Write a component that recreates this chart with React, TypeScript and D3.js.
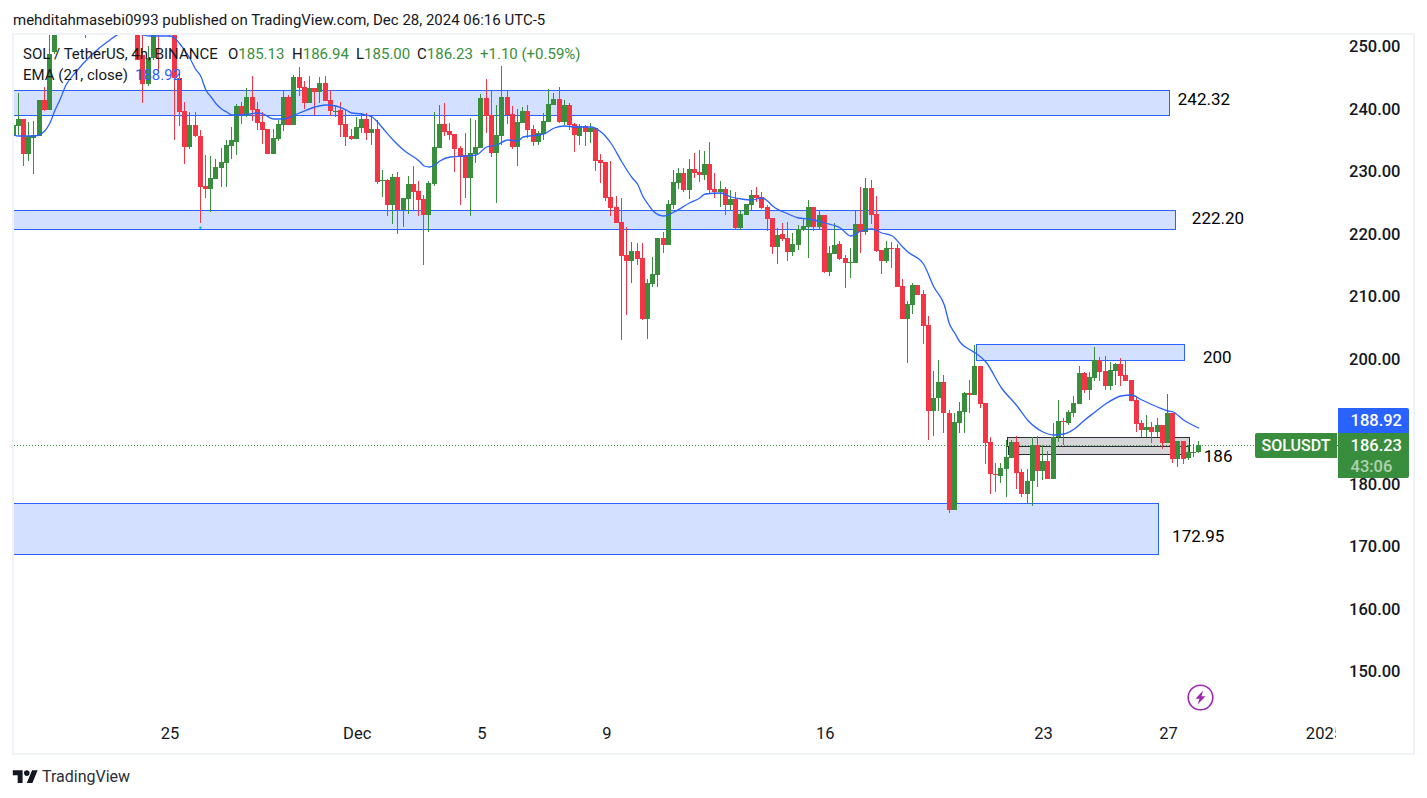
import React, { useEffect, useRef } from 'react'
import { axisBottom, axisRight, curveMonotoneX, format, line, scaleLinear, select } from 'd3'

// 4h bars, bar 0 is the Nov 25 00:00 candle. Bars -21..-7 sit above the visible range, so those are guesses.
const firstBar = -30

const opens = [
    235.68, 237.28, 238.40, 232.80, 235.36, 235.68, 241.44, 239.84, 249.12, 254,
    257, 259, 258, 260, 258, 254, 257, 260, 259, 257,
    259, 260, 258, 256, 255, 248.64, 244.0, 248.16, 256, 253.5,
    255, 254, 244.96, 239.68, 233.92, 237.44, 235.68, 227.68, 227.2, 228.8,
    230.56, 231.36, 234.08, 234.72, 240.48, 238.88, 241.92, 240.0, 237.92, 236.8,
    232.8, 235.2, 237.44, 241.92, 237.44, 245.12, 243.52, 240.96, 243.36, 242.72,
    244.16, 241.44, 239.68, 239.84, 237.6, 235.68, 235.2, 236.96, 238.4, 236.16,
    236.8, 228.48, 228.64, 224.64, 229.12, 223.84, 225.6, 228.0, 226.88, 225.6,
    223.04, 228.0, 233.76, 237.6, 236.48, 236.0, 233.76, 232.64, 228.96, 232.8,
    233.76, 241.76, 239.04, 232.96, 235.68, 241.92, 239.2, 233.92, 237.76, 239.68,
    236.8, 234.72, 236.0, 237.92, 240.64, 241.6, 237.92, 240.64, 237.6, 235.68,
    237.28, 236.32, 236.96, 231.84, 231.52, 225.92, 224.32, 221.92, 216.64, 215.68,
    217.28, 216.16, 206.4, 212.0, 213.44, 219.36, 218.24, 224.64, 228.16, 229.76,
    227.04, 230.4, 229.92, 229.44, 231.2, 227.2, 226.72, 227.2, 224.64, 225.6,
    220.96, 223.04, 224.64, 226.24, 225.92, 224.32, 222.56, 217.92, 220.0, 219.36,
    217.12, 218.24, 220.64, 221.12, 224.32, 221.12, 223.04, 213.92, 216.8, 218.4,
    216.16, 215.36, 215.36, 221.6, 220.32, 227.36, 223.2, 217.44, 215.68, 217.76,
    217.76, 211.68, 206.4, 208.64, 211.84, 210.4, 205.44, 191.68, 193.76, 196.32,
    191.36, 175.84, 189.76, 191.52, 194.56, 194.24, 198.88, 192.96, 186.72, 181.6,
    181.28, 182.4, 184.16, 186.72, 181.92, 178.4, 180.48, 186.24, 182.08, 183.68,
    180.8, 187.52, 190.08, 189.76, 191.36, 192.8, 197.76, 195.04, 196.96, 199.84,
    198.08, 195.68, 198.08, 199.2, 197.44, 196.64, 193.44, 189.76, 188.64, 189.12,
    188.32, 189.44, 186.56, 191.36, 184.0, 186.88, 184.16, 184.96, 185.13,
]

const highs = [
    239.04, 242.56, 238.40, 237.92, 238.08, 241.44, 243.52, 252.7, 256, 258,
    260, 262, 261, 263, 259, 258, 261, 263, 262, 260,
    262, 263, 260, 259, 257, 253, 250.08, 254, 257, 257,
    256, 255, 245.92, 241.12, 239.52, 239.52, 236.64, 232.64, 232.48, 232.0,
    233.76, 235.04, 237.12, 240.8, 241.12, 243.36, 245.28, 241.12, 239.52, 236.8,
    236.8, 238.24, 243.04, 242.24, 245.44, 246.72, 244.48, 245.28, 243.36, 245.12,
    245.28, 243.04, 240.48, 241.12, 239.84, 236.8, 238.72, 239.36, 239.36, 238.88,
    238.24, 230.24, 228.8, 229.6, 229.92, 225.76, 229.28, 230.88, 228.48, 226.24,
    228.48, 239.52, 240.64, 240.96, 237.76, 236.0, 234.08, 236.16, 238.56, 238.24,
    242.4, 244.8, 242.88, 240.64, 246.88, 242.88, 240.48, 240.0, 240.32, 240.64,
    237.44, 236.48, 239.36, 243.2, 242.56, 243.52, 241.44, 240.96, 237.76, 237.6,
    237.44, 237.76, 236.96, 232.8, 231.52, 231.68, 226.08, 225.76, 221.12, 218.72,
    218.56, 218.56, 212.8, 216.32, 219.36, 220.32, 225.44, 230.24, 230.56, 230.56,
    232.0, 232.96, 233.44, 233.28, 234.72, 229.76, 228.48, 227.52, 227.04, 226.72,
    223.84, 224.8, 227.04, 227.52, 226.72, 224.64, 222.56, 220.96, 221.76, 221.92,
    220.16, 221.44, 222.4, 225.44, 224.32, 223.84, 223.04, 218.08, 221.76, 218.88,
    216.64, 217.76, 223.84, 227.52, 228.96, 228.64, 226.08, 217.44, 218.88, 218.72,
    218.4, 212.8, 209.28, 212.16, 211.84, 211.04, 206.88, 198.08, 199.84, 197.44,
    191.84, 191.36, 193.12, 194.72, 196.64, 202.24, 198.88, 192.96, 187.52, 183.36,
    183.36, 187.04, 187.04, 187.68, 182.4, 182.4, 187.52, 187.68, 186.24, 185.28,
    189.76, 193.44, 190.56, 191.84, 194.08, 198.88, 197.92, 197.92, 201.92, 200.32,
    200.48, 199.52, 199.36, 200.16, 199.68, 196.64, 193.92, 190.24, 191.04, 189.92,
    190.56, 189.44, 194.4, 191.36, 186.88, 186.88, 186.24, 186.4, 186.94,
]

const lows = [
    234.72, 235.84, 230.88, 231.68, 229.60, 235.68, 239.68, 239.84, 248.8, 253,
    255, 257, 256, 257, 251.36, 253, 255, 258, 256, 255,
    257, 257, 254, 253.5, 247.84, 240.96, 243.68, 247.84, 245.92, 251.9,
    251.52, 235.04, 237.28, 231.2, 233.6, 235.52, 221.76, 225.76, 223.52, 228.8,
    227.52, 227.52, 232.0, 232.64, 237.6, 238.72, 238.08, 236.64, 234.4, 232.8,
    232.8, 234.88, 236.48, 237.44, 237.44, 242.08, 240.0, 240.96, 239.04, 240.96,
    241.28, 238.88, 238.72, 235.52, 234.08, 235.04, 235.2, 236.16, 235.04, 234.24,
    228.0, 225.92, 222.88, 221.6, 220.0, 221.12, 223.2, 223.84, 222.88, 215.04,
    220.32, 227.68, 233.76, 235.68, 235.04, 229.92, 224.64, 225.76, 222.88, 231.36,
    233.76, 236.16, 232.32, 224.96, 234.24, 237.6, 233.6, 230.88, 237.76, 235.36,
    234.08, 234.24, 235.04, 237.92, 240.64, 237.76, 237.44, 236.64, 233.12, 234.24,
    234.08, 234.56, 230.08, 228.16, 225.28, 222.88, 221.76, 203.04, 207.04, 212.16,
    215.04, 206.24, 203.2, 211.52, 211.52, 216.96, 218.24, 224.0, 227.2, 226.72,
    225.6, 228.96, 228.32, 228.64, 226.56, 225.76, 224.32, 223.04, 223.84, 220.64,
    220.64, 223.04, 223.84, 225.12, 224.0, 220.48, 216.8, 215.2, 218.88, 215.68,
    216.48, 217.44, 220.48, 216.16, 220.48, 220.64, 213.76, 213.28, 216.8, 215.84,
    211.36, 212.96, 215.36, 216.96, 219.84, 221.6, 217.12, 213.6, 215.36, 214.56,
    211.52, 206.4, 199.36, 207.2, 210.24, 202.4, 187.04, 187.68, 191.68, 188.16,
    175.36, 175.84, 188.16, 188.16, 191.36, 194.24, 192.16, 183.2, 178.4, 178.72,
    180.16, 177.92, 184.16, 179.2, 177.92, 176.96, 176.48, 179.52, 180.64, 180.8,
    180.8, 186.72, 186.24, 189.44, 190.72, 192.8, 194.56, 193.44, 196.48, 196.48,
    195.04, 195.04, 195.84, 195.68, 196.48, 193.28, 188.32, 187.52, 187.52, 186.56,
    187.52, 185.6, 186.56, 183.36, 182.72, 183.2, 183.84, 184.32, 185.0,
]

const closes = [
    237.44, 238.40, 232.80, 235.68, 235.84, 241.44, 239.84, 248.80, 254, 257,
    259, 258, 260, 258, 254, 257, 260, 259, 257, 259,
    260, 258, 256, 255, 247.84, 244.0, 248.16, 253, 253.5, 255,
    254, 244.96, 239.52, 233.92, 237.44, 235.68, 227.52, 227.2, 228.96, 230.72,
    231.52, 234.24, 235.04, 240.48, 239.04, 241.92, 239.84, 237.76, 236.64, 232.8,
    235.36, 237.6, 241.92, 237.44, 245.12, 243.36, 240.96, 243.36, 242.72, 244.16,
    241.28, 239.68, 239.76, 237.44, 235.52, 235.2, 237.12, 238.4, 236.16, 236.8,
    228.32, 228.64, 224.64, 229.12, 223.84, 225.76, 228.0, 226.72, 225.44, 223.04,
    228.16, 233.92, 237.6, 236.32, 235.84, 233.6, 232.48, 228.96, 232.96, 233.92,
    241.76, 238.88, 232.96, 235.84, 241.92, 239.04, 233.92, 237.92, 239.68, 236.64,
    234.72, 236.16, 238.08, 240.8, 241.6, 237.92, 240.64, 237.44, 235.84, 237.28,
    236.32, 236.96, 231.68, 231.36, 225.76, 224.16, 221.76, 216.48, 215.68, 217.28,
    216.0, 206.4, 212.16, 213.6, 219.36, 218.24, 224.8, 228.32, 229.76, 227.04,
    230.4, 229.76, 229.44, 231.2, 227.04, 226.72, 227.2, 224.64, 225.6, 220.96,
    223.2, 224.8, 226.24, 225.76, 224.16, 222.4, 217.92, 219.84, 219.2, 217.12,
    218.4, 220.8, 221.28, 224.32, 221.12, 223.04, 213.92, 216.96, 218.24, 216.0,
    215.36, 215.52, 221.6, 220.32, 227.36, 223.04, 217.28, 215.68, 217.76, 217.6,
    211.52, 206.4, 208.8, 211.84, 210.24, 205.28, 191.68, 193.76, 196.32, 191.36,
    175.84, 189.92, 191.68, 194.56, 194.24, 198.88, 192.8, 186.56, 181.6, 181.44,
    182.56, 184.32, 186.72, 181.76, 178.4, 180.48, 186.24, 182.08, 183.68, 180.8,
    187.52, 190.08, 189.92, 191.52, 192.96, 197.76, 195.04, 197.12, 199.84, 197.92,
    195.68, 198.24, 199.2, 197.28, 196.48, 193.28, 189.6, 188.64, 189.12, 188.32,
    189.44, 186.56, 191.36, 184.0, 186.88, 184.0, 185.12, 185.12, 186.23,
]

const emaBars = [
    -30, -29, -26, -24, -23, -22, -21, -20, -18, -15, -12, -9, -6, -4, -2, 0, 1, 2, 3, 4, 5, 6, 7, 8, 9, 10, 11, 12,
    14, 17, 18, 20, 22, 24, 25, 28, 30, 32, 34, 35, 37, 39, 40, 41, 43, 45, 48, 49, 50, 51, 52, 54, 57, 59,
    61, 63, 65, 67, 68, 71, 72, 74, 76, 78, 81, 83, 85, 87, 89, 90, 91, 92, 93, 95, 97, 100, 102, 103, 106, 108,
    110, 112, 114, 115, 116, 119, 121, 123, 126, 129, 131, 133, 135, 137, 139, 141, 142, 145, 147, 149, 150, 151,
    152, 154, 155, 157, 160, 163, 165, 168, 170, 172, 174, 176, 178, 180, 183, 185, 187, 190, 192, 193, 195, 198,
]

const emaValues = [
    235.84, 235.68, 235.68, 236.48, 237.76, 239.84, 241.6, 243.68, 245.92, 248.64, 250.72, 252.16, 252.0, 251.68, 251.68, 251.68, 251.36, 250.4, 249.28, 248.0, 246.4, 245.28, 243.04, 241.92, 240.8, 240.0, 239.52, 239.04,
    239.04, 239.36, 239.2, 238.4, 238.4, 239.04, 239.36, 240.32, 240.64, 240.48, 239.84, 239.36, 239.2, 238.72, 237.92, 236.96, 235.04, 233.44, 231.68, 230.88, 230.72, 231.04, 231.68, 232.32, 232.48, 232.64,
    233.92, 234.24, 235.04, 234.88, 235.52, 235.84, 236.0, 236.96, 237.28, 237.12, 237.12, 236.32, 234.4, 231.52, 228.96, 228.0, 226.08, 224.8, 223.68, 222.88, 223.52, 224.96, 225.76, 226.4, 226.56, 225.92,
    225.6, 225.44, 225.76, 225.28, 224.48, 223.2, 222.56, 222.4, 221.76, 220.96, 219.68, 220.48, 220.8, 220.16, 219.68, 217.92, 217.12, 215.2, 211.52, 208.64, 205.6, 204.16,
    202.72, 201.44, 200.96, 199.52, 195.36, 192.48, 190.24, 188.32, 187.84, 188.0, 188.8, 190.24, 191.52, 192.8, 194.08, 194.24, 193.44, 192.32, 191.68, 191.52, 190.24, 188.92,
]

// 190.00 is hidden behind the price tags
const priceTicks = [250, 240, 230, 220, 210, 200, 180, 170, 160, 150]
const timeTickBars = [0, 36, 60, 84, 126, 168, 192, 222]
const timeTickLabels = ['25', 'Dec', '5', '9', '16', '23', '27', '2025']

// blue zones drawn on the chart
const zoneTops = [242.99, 223.79, 202.35, 176.91]
const zoneBottoms = [238.99, 220.75, 199.79, 168.8]
const zoneStarts = [-33, -33, 155.25, -33]
const zoneEnds = [192.3, 193.46, 195.33, 190.25]

// grey box around 186
const greyTops = [187.47, 186.08]
const greyBottoms = [186.08, 184.75]
const greyStarts = [161.1, 161.25]
const greyEnds = [196.05, 196.05]

const noteLabels = ['242.32', '222.20', '200', '186', '172.95']
const noteBars = [194.0, 196.7, 198.85, 199.0, 192.9]
const notePrices = [241.6, 222.56, 200.32, 184.48, 171.68]

const legendValues = ['185.13', '186.94', '185.00', '186.23']
const lastPrice = 186.23
const emaPrice = 188.92

const GREEN = '#388e3c'
const RED = '#f23645'
const BLUE = '#2962ff'
const INK = '#131722'
const FRAME = '#f0f3fa'
const FONT = 'Roboto, sans-serif'

const App = () => {
    const chartRef = useRef<SVGSVGElement>(null)

    useEffect(() => {
        const width = 1427
        const height = 798
        const plot = { left: 14, top: 35, right: 1338, bottom: 753 }

        const x = scaleLinear().domain([0, 36]).range([169, 356.2])
        const y = scaleLinear().domain([150, 250]).range([671.5, 46.5])
        const ix = (bar: number) => Math.round(x(bar) - 2.5)
        const iy = (price: number) => Math.round(y(price))

        const svg = select(chartRef.current)
        svg.selectAll('*').remove()
        svg.attr('width', width).attr('height', height)

        svg.append('rect').attr('width', width).attr('height', height).attr('fill', '#fff')

        svg.append('defs').append('clipPath').attr('id', 'plot-clip').append('rect')
            .attr('x', plot.left).attr('y', plot.top)
            .attr('width', plot.right - plot.left).attr('height', plot.bottom - plot.top)

        const chart = svg.append('g').attr('clip-path', 'url(#plot-clip)')

        // zones and grey box stay behind the candles
        const zones = chart.append('g').attr('shape-rendering', 'crispEdges')
        zoneTops.forEach((top, i) => {
            zones.append('rect')
                .attr('x', Math.round(x(zoneStarts[i])) + 0.5)
                .attr('y', iy(top) + 0.5)
                .attr('width', Math.round(x(zoneEnds[i]) - x(zoneStarts[i])))
                .attr('height', iy(zoneBottoms[i]) - iy(top))
                .attr('fill', '#d4e0ff')
                .attr('stroke', BLUE)
                .attr('stroke-width', 1)
        })
        greyTops.forEach((top, i) => {
            zones.append('rect')
                .attr('x', Math.round(x(greyStarts[i])) + 0.5)
                .attr('y', iy(top) + 0.5)
                .attr('width', Math.round(x(greyEnds[i]) - x(greyStarts[i])))
                .attr('height', iy(greyBottoms[i]) - iy(top))
                .attr('fill', '#d6d6d8')
                .attr('stroke', '#2a2e39')
                .attr('stroke-width', 1)
        })

        // last price line
        chart.append('line')
            .attr('x1', plot.left).attr('x2', plot.right)
            .attr('y1', iy(lastPrice) + 0.5).attr('y2', iy(lastPrice) + 0.5)
            .attr('stroke', GREEN)
            .attr('stroke-dasharray', '1 2')

        const bars = opens.map((open, i) => ({
            bar: firstBar + i,
            open,
            high: highs[i],
            low: lows[i],
            close: closes[i],
        }))

        const candles = chart.append('g').attr('shape-rendering', 'crispEdges')
        candles.selectAll('rect.wick')
            .data(bars)
            .enter()
            .append('rect')
            .attr('class', 'wick')
            .attr('x', d => ix(d.bar) + 2)
            .attr('y', d => iy(d.high))
            .attr('width', 1)
            .attr('height', d => Math.max(1, iy(d.low) - iy(d.high)))
            .attr('fill', d => (d.close >= d.open ? GREEN : RED))
        candles.selectAll('rect.body')
            .data(bars)
            .enter()
            .append('rect')
            .attr('class', 'body')
            .attr('x', d => ix(d.bar))
            .attr('y', d => iy(Math.max(d.open, d.close)))
            .attr('width', 5)
            .attr('height', d => Math.max(1, iy(Math.min(d.open, d.close)) - iy(Math.max(d.open, d.close))))
            .attr('fill', d => (d.close >= d.open ? GREEN : RED))

        const emaLine = line<number>()
            .x((_, i) => x(emaBars[i]) + 0.5)
            .y(d => y(d))
            .curve(curveMonotoneX)
        chart.append('path')
            .attr('d', emaLine(emaValues))
            .attr('fill', 'none')
            .attr('stroke', BLUE)
            .attr('stroke-width', 1.3)

        // stray marker under the Nov 26 wick
        chart.append('circle')
            .attr('cx', x(6) + 0.3).attr('cy', y(221))
            .attr('r', 1.2)
            .attr('fill', '#00bcd4')

        // frame
        svg.append('rect')
            .attr('x', 13).attr('y', 34)
            .attr('width', 1401).attr('height', 720)
            .attr('fill', 'none')
            .attr('stroke', FRAME)
            .attr('stroke-width', 2)

        // price axis
        const priceAxis = svg.append('g')
            .attr('transform', 'translate(1349, 0)')
            .call(axisRight(y).tickValues(priceTicks).tickSize(0).tickPadding(0).tickFormat(format('.2f')))
        priceAxis.select('.domain').remove()
        priceAxis.selectAll('text')
            .attr('fill', INK)
            .style('font-family', FONT)
            .style('font-size', '16.5px')
            .style('font-weight', 500)

        // time axis, the 2025 label gets cut off by the price scale
        const timeAxis = svg.append('g')
            .attr('transform', 'translate(0.5, 727)')
            .call(axisBottom(x).tickValues(timeTickBars).tickSize(0).tickPadding(0)
                .tickFormat((_, i) => timeTickLabels[i]))
        timeAxis.select('.domain').remove()
        timeAxis.selectAll('text')
            .attr('fill', INK)
            .style('font-family', FONT)
            .style('font-size', '16.5px')
        svg.append('rect').attr('x', 1336).attr('y', 722).attr('width', 40).attr('height', 24).attr('fill', '#fff')

        // labels typed next to the zones
        noteLabels.forEach((label, i) => {
            svg.append('text')
                .attr('x', x(noteBars[i]))
                .attr('y', y(notePrices[i]))
                .attr('dy', '0.35em')
                .attr('fill', '#000')
                .style('font-family', FONT)
                .style('font-size', '17px')
                .text(label)
        })

        // legend
        const legend1 = svg.append('text')
            .attr('x', 23).attr('y', 59)
            .attr('fill', INK)
            .style('font-family', FONT)
            .style('font-size', '15px')
        legend1.append('tspan').text('SOL / TetherUS, 4h, BINANCE')
        const ohlcXs = [228, 292, 356, 417]
        ;['O', 'H', 'L', 'C'].forEach((name, i) => {
            legend1.append('tspan').attr('x', ohlcXs[i]).text(name)
            legend1.append('tspan').attr('fill', GREEN).text(legendValues[i])
        })
        legend1.append('tspan').attr('x', 480).attr('fill', GREEN).text('+1.10 (+0.59%)')

        svg.append('text')
            .attr('x', 23).attr('y', 80)
            .attr('fill', INK)
            .style('font-family', FONT)
            .style('font-size', '15px')
            .text('EMA (21, close)')
        svg.append('text')
            .attr('x', 135).attr('y', 80)
            .attr('fill', BLUE)
            .style('font-family', FONT)
            .style('font-size', '15px')
            .text(emaPrice.toFixed(2))

        // tags on the price axis
        svg.append('path')
            .attr('d', 'M1337 433H1257a2 2 0 0 0 -2 2V456a2 2 0 0 0 2 2H1337Z')
            .attr('fill', GREEN)
        svg.append('text')
            .attr('x', 1296).attr('y', 451)
            .attr('text-anchor', 'middle')
            .attr('fill', '#fff')
            .style('font-family', FONT)
            .style('font-size', '16px')
            .style('font-weight', 500)
            .text('SOLUSDT')
        svg.append('path')
            .attr('d', 'M1338 408H1407a2 2 0 0 1 2 2V433H1338Z')
            .attr('fill', BLUE)
        svg.append('path')
            .attr('d', 'M1338 433H1409V476a2 2 0 0 1 -2 2H1338Z')
            .attr('fill', GREEN)
        const tagText = [
            { text: emaPrice.toFixed(2), yy: 426, opacity: 1 },
            { text: lastPrice.toFixed(2), yy: 451, opacity: 1 },
            { text: '43:06', yy: 472, opacity: 0.6 },
        ]
        tagText.forEach(t => {
            svg.append('text')
                .attr('x', 1350.5).attr('y', t.yy)
                .attr('fill', '#fff')
                .attr('opacity', t.opacity)
                .style('font-family', FONT)
                .style('font-size', '16.5px')
                .style('font-weight', 500)
                .text(t.text)
        })

        // lightning badge
        const badge = svg.append('g').attr('transform', 'translate(1200.5, 697.5)')
        badge.append('circle').attr('r', 12.3).attr('fill', '#fff').attr('stroke', '#9c27b0').attr('stroke-width', 1.6)
        badge.append('path').attr('d', 'M2.5 -7L-5 1.2H-1L-3 7L5 -1.2H1Z').attr('fill', '#9c27b0')

        // header and footer
        svg.append('text')
            .attr('x', 13).attr('y', 25)
            .attr('fill', INK)
            .style('font-family', FONT)
            .style('font-size', '15px')
            .text('mehditahmasebi0993 published on TradingView.com, Dec 28, 2024 06:16 UTC-5')

        const logo = svg.append('g').attr('transform', 'translate(12.8, 767.5) scale(0.7)').attr('fill', INK)
        logo.append('path').attr('d', 'M14 22H7V11H0V4h14v18zM28 22h-8l7.5-18h8L28 22z')
        logo.append('circle').attr('cx', 20).attr('cy', 8).attr('r', 4)
        svg.append('text')
            .attr('x', 42).attr('y', 782)
            .attr('fill', '#2a2e39')
            .style('font-family', FONT)
            .style('font-size', '16px')
            .text('TradingView')
    }, [chartRef])

    return (
        <svg ref={chartRef} style={{ position: 'absolute', left: 0, top: 0, display: 'block' }} />
    )
}

export default App
